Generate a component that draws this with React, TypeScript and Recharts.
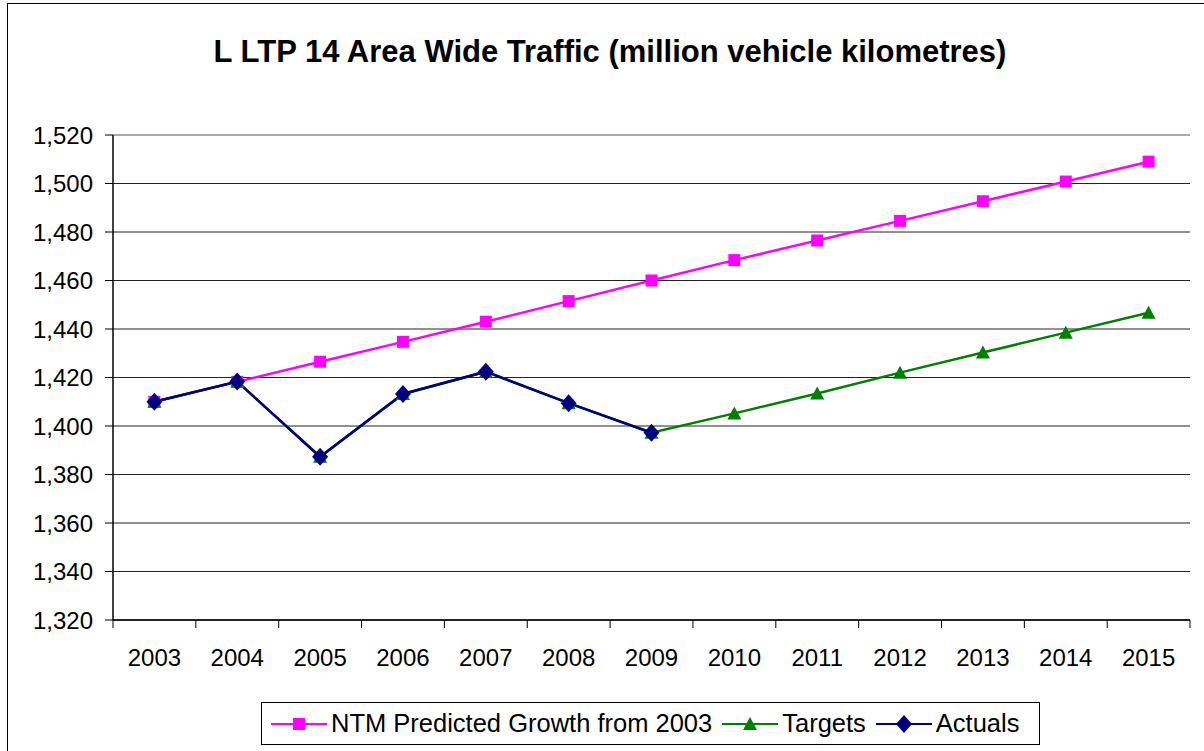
import React from "react";
import {
  LineChart,
  Line,
  XAxis,
  YAxis,
  CartesianGrid,
  ReferenceLine,
} from "recharts";

const years = ["2003", "2004", "2005", "2006", "2007", "2008", "2009", "2010", "2011", "2012", "2013", "2014", "2015"];
const ntmPredicted = [1410, 1418.2, 1426.5, 1434.7, 1443, 1451.5, 1460, 1468.4, 1476.5, 1484.6, 1492.7, 1500.8, 1509];
const targets = [1410, 1418.3, 1387.3, 1413.2, 1422.4, 1409.4, 1397.2, 1405.2, 1413.4, 1422, 1430.3, 1438.5, 1446.7];
const actuals = [1410, 1418.3, 1387.3, 1413.2, 1422.4, 1409.4, 1397.2, null, null, null, null, null, null];
const yTicks = [1320, 1340, 1360, 1380, 1400, 1420, 1440, 1460, 1480, 1500, 1520];

const data = years.map((year, i) => ({
  year,
  ntm: ntmPredicted[i],
  targets: targets[i],
  actuals: actuals[i],
}));

const FONT = '"Liberation Sans", Arial, sans-serif';
const MAGENTA = "#ff00ff";
const GREEN = "#008000";
const NAVY = "#000080";
const HALF_STEP = 41.4;

const SquareDot = (props: any) => {
  const { cx, cy } = props;
  if (cx == null || cy == null) return null;
  return <rect x={cx - 6} y={cy - 6} width={12} height={12} fill={MAGENTA} />;
};

const TriangleDot = (props: any) => {
  const { cx, cy } = props;
  if (cx == null || cy == null) return null;
  return <polygon points={`${cx},${cy - 7} ${cx + 7},${cy + 6} ${cx - 7},${cy + 6}`} fill={GREEN} />;
};

const DiamondDot = (props: any) => {
  const { cx, cy } = props;
  if (cx == null || cy == null) return null;
  return <polygon points={`${cx},${cy - 9} ${cx + 8},${cy} ${cx},${cy + 9} ${cx - 8},${cy}`} fill={NAVY} />;
};

const YearTick = (props: any) => {
  const { x, y, payload, index } = props;
  const last = index === years.length - 1;
  return (
    <g>
      <line x1={x - HALF_STEP} y1={y} x2={x - HALF_STEP} y2={y + 8} stroke="#000" />
      {last && <line x1={x + HALF_STEP} y1={y} x2={x + HALF_STEP} y2={y + 8} stroke="#000" />}
      <text x={x} y={y + 46} textAnchor="middle" fontSize={24} fontFamily={FONT} fill="#000">
        {payload.value}
      </text>
    </g>
  );
};

const LegendIcon = ({ color, marker }: { color: string; marker: React.ReactNode }) => (
  <svg width={56} height={20} style={{ marginRight: 4 }}>
    <line x1={0} y1={10} x2={56} y2={10} stroke={color} strokeWidth={2} />
    {marker}
  </svg>
);

export default function App() {
  return (
    <div style={{ position: "absolute", left: 0, top: 0, width: 1204, height: 751, background: "#fff", fontFamily: FONT }}>
      <div
        style={{
          position: "absolute",
          left: 7,
          top: 3,
          width: 1197,
          height: 748,
          borderLeft: "1px solid #000",
          borderTop: "1px solid #000",
          boxSizing: "border-box",
        }}
      />
      <div
        style={{
          position: "absolute",
          left: 0,
          top: 34,
          width: 1220,
          textAlign: "center",
          fontSize: 31,
          fontWeight: "bold",
          lineHeight: "36px",
        }}
      >
        L LTP 14 Area Wide Traffic (million vehicle kilometres)
      </div>
      <div style={{ position: "absolute", left: 0, top: 0 }}>
        <LineChart width={1204} height={751} data={data} margin={{ top: 135, right: 14, bottom: 0, left: 0 }}>
          <CartesianGrid vertical={false} stroke="#222" yAxisId="l" />
          <ReferenceLine y={1520} yAxisId="l" stroke="#aaa" strokeWidth={2} />
          <XAxis
            dataKey="year"
            padding={{ left: HALF_STEP, right: HALF_STEP }}
            height={131}
            tickSize={0}
            tickMargin={0}
            tick={<YearTick />}
            axisLine={{ stroke: "#000", strokeWidth: 1.5 }}
            interval={0}
          />
          <YAxis
            yAxisId="l"
            width={113}
            domain={[1320, 1520]}
            ticks={yTicks}
            tickFormatter={(v: number) => v.toLocaleString("en-US")}
            tick={{ fill: "#000", fontSize: 24, fontFamily: FONT }}
            tickSize={8}
            tickMargin={12}
            tickLine={{ stroke: "#000" }}
            axisLine={{ stroke: "#000", strokeWidth: 1.5 }}
            interval={0}
          />
          <YAxis
            yAxisId="r"
            orientation="right"
            width={0}
            domain={[1320, 1520]}
            tick={false}
            tickLine={false}
            axisLine={{ stroke: "#999", strokeWidth: 2 }}
          />
          <Line
            yAxisId="l"
            dataKey="ntm"
            stroke={MAGENTA}
            strokeWidth={2.5}
            dot={<SquareDot />}
            activeDot={false}
            isAnimationActive={false}
          />
          <Line
            yAxisId="l"
            dataKey="targets"
            stroke={GREEN}
            strokeWidth={2.5}
            dot={<TriangleDot />}
            activeDot={false}
            isAnimationActive={false}
          />
          <Line
            yAxisId="l"
            dataKey="actuals"
            stroke={NAVY}
            strokeWidth={2.5}
            dot={<DiamondDot />}
            activeDot={false}
            connectNulls={false}
            isAnimationActive={false}
          />
        </LineChart>
      </div>
      <div
        style={{
          position: "absolute",
          left: 261,
          top: 702,
          width: 779,
          height: 43,
          border: "1px solid #000",
          boxSizing: "border-box",
          display: "flex",
          alignItems: "center",
          paddingLeft: 9,
          fontSize: 25.5,
          whiteSpace: "nowrap",
        }}
      >
        <LegendIcon color={MAGENTA} marker={<rect x={22} y={4} width={12} height={12} fill={MAGENTA} />} />
        <span style={{ marginRight: 10 }}>NTM Predicted Growth from 2003</span>
        <LegendIcon color={GREEN} marker={<polygon points="28,3 35,16 21,16" fill={GREEN} />} />
        <span style={{ marginRight: 10 }}>Targets</span>
        <LegendIcon color={NAVY} marker={<polygon points="28,1 36,10 28,19 20,10" fill={NAVY} />} />
        <span>Actuals</span>
      </div>
    </div>
  );
}
